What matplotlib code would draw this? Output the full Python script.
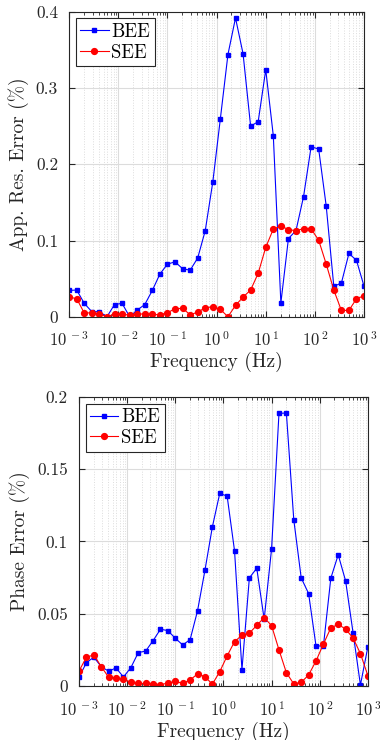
import matplotlib
matplotlib.use("Agg")
import matplotlib.pyplot as plt
import numpy as np
from matplotlib.ticker import LogLocator, NullFormatter, FixedLocator, FuncFormatter

plt.rcParams["font.family"] = "serif"
plt.rcParams["font.serif"] = ["cmr10", "DejaVu Serif"]
plt.rcParams["mathtext.fontset"] = "cm"
plt.rcParams["axes.formatter.use_mathtext"] = True

# 40 log-spaced frequencies, 1 mHz to 1 kHz
freq = np.logspace(-3, 3, 40)

# apparent resistivity error (%)
res_bee = [0.0345, 0.035, 0.0175, 0.0066, 0.0066, 0.0, 0.016, 0.0175, 0.0, 0.0087,
           0.016, 0.0345, 0.056, 0.069, 0.072, 0.063, 0.061, 0.077, 0.113, 0.177,
           0.260, 0.344, 0.392, 0.345, 0.250, 0.256, 0.324, 0.2375, 0.018, 0.1026,
           0.113, 0.1576, 0.223, 0.220, 0.145, 0.040, 0.044, 0.083, 0.074, 0.040]
res_see = [0.0258, 0.0236, 0.0048, 0.0052, 0.0035, 0.0, 0.0035, 0.0035, 0.002, 0.003,
           0.004, 0.003, 0.0026, 0.0052, 0.0105, 0.011, 0.0026, 0.006, 0.0118, 0.013,
           0.0096, 0.0, 0.0148, 0.0258, 0.035, 0.057, 0.091, 0.115, 0.119, 0.1144,
           0.1127, 0.1157, 0.1153, 0.1004, 0.069, 0.035, 0.0083, 0.0083, 0.0236, 0.0275]

# phase error (%)
phase_bee = [0.006, 0.0162, 0.0199, 0.0134, 0.0102, 0.0125, 0.0062, 0.0127, 0.0231, 0.0242,
             0.0314, 0.0393, 0.0383, 0.033, 0.0284, 0.0321, 0.052, 0.080, 0.110, 0.1333,
             0.1314, 0.0935, 0.0113, 0.0748, 0.0815, 0.0462, 0.0949, 0.1887, 0.1889, 0.115,
             0.0748, 0.064, 0.0277, 0.0277, 0.0746, 0.0908, 0.0727, 0.037, 0.0007, 0.027]
phase_see = [0.0104, 0.0199, 0.0215, 0.0134, 0.006, 0.0055, 0.0046, 0.0025, 0.0018, 0.0018,
             0.0014, 0.0009, 0.002, 0.0032, 0.0018, 0.0042, 0.0083, 0.0065, 0.0012, 0.0099,
             0.0208, 0.0307, 0.0351, 0.0365, 0.042, 0.0473, 0.0418, 0.025, 0.0092, 0.0014,
             0.0025, 0.0076, 0.0173, 0.029, 0.0402, 0.0427, 0.0393, 0.0333, 0.0224, 0.0072]

AX_COLOR = "#262626"


def decade_label(x, pos):
    return r"$10^{\,%d}$" % int(round(np.log10(x)))


def style_axes(ax, ylim, yticks, yticklabels, ylabel):
    ax.set_xscale("log")
    ax.set_xlim(1e-3, 1e3)
    ax.set_ylim(*ylim)
    ax.xaxis.set_major_locator(LogLocator(base=10, numticks=10))
    ax.xaxis.set_major_formatter(FuncFormatter(decade_label))
    ax.xaxis.set_minor_locator(LogLocator(base=10, subs=np.arange(2, 10), numticks=20))
    ax.xaxis.set_minor_formatter(NullFormatter())
    ax.yaxis.set_major_locator(FixedLocator(yticks))
    ax.set_yticklabels(yticklabels)
    ax.grid(True, which="major", color="#dcdcdc", linewidth=0.8)
    ax.grid(True, which="minor", axis="x", color="#dcdcdc", linestyle=":", linewidth=0.7)
    ax.set_axisbelow(True)
    ax.tick_params(which="both", direction="in", top=True, right=True, colors=AX_COLOR)
    ax.tick_params(axis="x", labelsize=12, pad=10)
    ax.tick_params(axis="y", labelsize=12.5, pad=8)
    ax.tick_params(which="major", length=4)
    ax.tick_params(which="minor", length=2)
    for s in ax.spines.values():
        s.set_color(AX_COLOR)
        s.set_linewidth(0.8)
    ax.set_xlabel("Frequency (Hz)", fontsize=14, color=AX_COLOR, labelpad=2)
    ax.set_ylabel(ylabel, fontsize=14, color=AX_COLOR, labelpad=5)
    leg = ax.legend(loc="upper left", fontsize=13.5, fancybox=False, framealpha=1,
                    edgecolor=AX_COLOR, handlelength=1.5, handletextpad=0.15,
                    borderpad=0.25, labelspacing=0.15, borderaxespad=0.35)
    leg.get_frame().set_linewidth(0.8)


fig = plt.figure(figsize=(3.8, 7.4), dpi=100)

ax1 = fig.add_axes([0.182, 0.572, 0.776, 0.412])
ax1.plot(freq, res_bee, "-s", color="#0000ff", lw=0.8, ms=3.2, label="BEE")
ax1.plot(freq, res_see, "-o", color="#ff0000", lw=0.8, ms=4.2, label="SEE")
style_axes(ax1, (0, 0.4), [0, 0.1, 0.2, 0.3, 0.4], ["0", "0.1", "0.2", "0.3", "0.4"],
           "App. Res. Error (%)")

ax2 = fig.add_axes([0.208, 0.073, 0.76, 0.3905])
ax2.plot(freq, phase_bee, "-s", color="#0000ff", lw=0.8, ms=3.2, label="BEE")
ax2.plot(freq, phase_see, "-o", color="#ff0000", lw=0.8, ms=4.2, label="SEE")
style_axes(ax2, (0, 0.2), [0, 0.05, 0.1, 0.15, 0.2], ["0", "0.05", "0.1", "0.15", "0.2"],
           "Phase Error (%)")

fig.savefig("out.png", dpi=100)
